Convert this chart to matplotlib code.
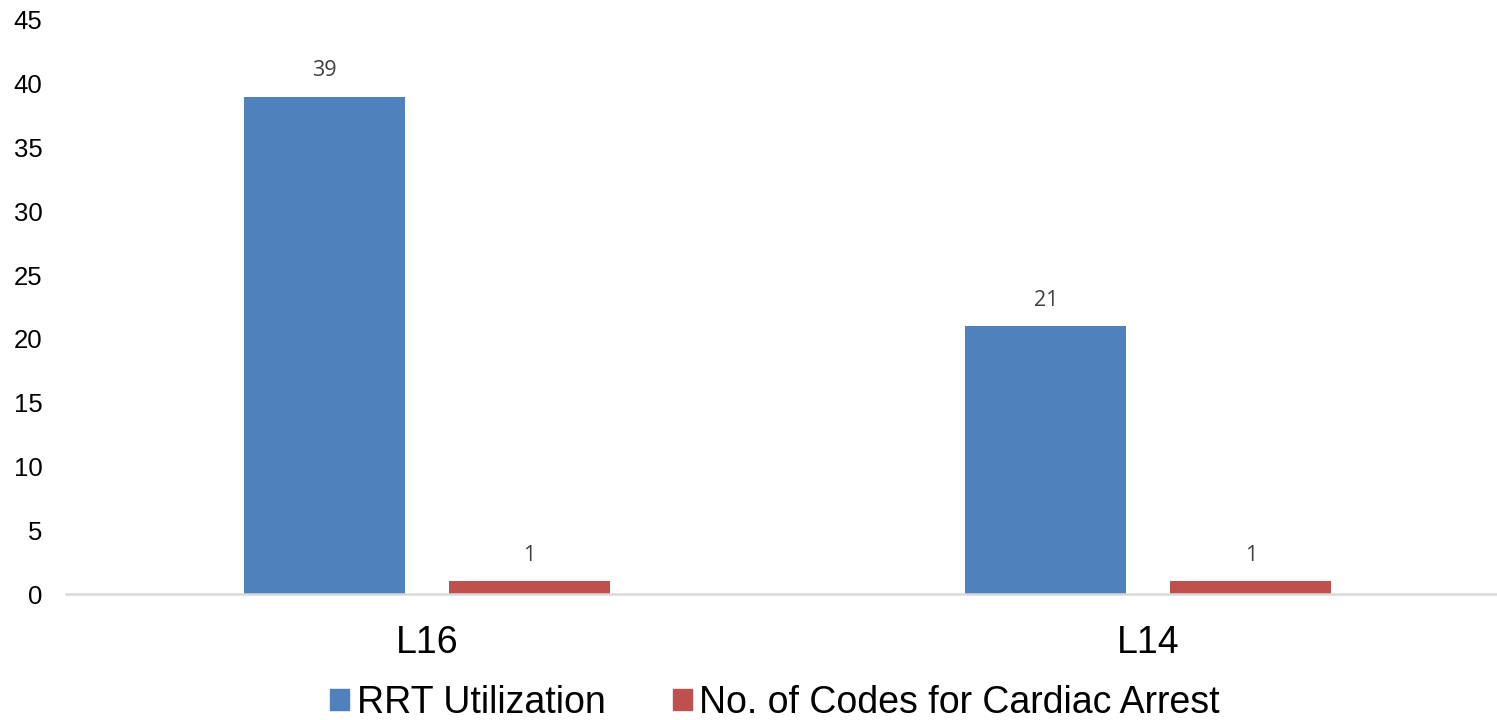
import numpy as np
import matplotlib.pyplot as plt
from matplotlib.patches import Patch

categories = ["L16", "L14"]
rrt_utilization = [39, 21]
cardiac_codes = [1, 1]
series_names = ["RRT Utilization", "No. of Codes for Cardiac Arrest"]
colors = ["#4F81BD", "#C0504D"]

plt.rcParams['font.family'] = ['Liberation Sans', 'DejaVu Sans']

fig = plt.figure(figsize=(14.97, 7.2), dpi=100)
# axes extends a bit past the right edge, like the cropped original
ax = fig.add_axes([66 / 1497, 126 / 720, 1443 / 1497, 574 / 720])

x = np.arange(len(categories))
width = 0.223
offset = 0.142

b1 = ax.bar(x - offset, rrt_utilization, width, color=colors[0])
b2 = ax.bar(x + offset, cardiac_codes, width, color=colors[1])

for bars, vals in [(b1, rrt_utilization), (b2, cardiac_codes)]:
    for bar, v in zip(bars, vals):
        ax.annotate(str(v), (bar.get_x() + bar.get_width() / 2, v),
                    xytext=(0, 11), textcoords='offset points',
                    ha='center', va='bottom', fontsize=15.5,
                    color='#404040', family=['Open Sans', 'DejaVu Sans'])

ax.set_xlim(-0.5, 1.5)
ax.set_ylim(0, 45)
ax.set_yticks(range(0, 50, 5))
ax.set_xticks(x)
ax.set_xticklabels(categories, fontsize=27)
ax.tick_params(axis='y', labelsize=18.5, length=0, pad=17)
ax.tick_params(axis='x', length=0, pad=22)

for s in ['top', 'right', 'left']:
    ax.spines[s].set_visible(False)
ax.spines['bottom'].set_color('#D9D9D9')
ax.spines['bottom'].set_linewidth(1.8)

handles = [Patch(color=c) for c in colors]
fig.legend(handles, series_names, loc='center', bbox_to_anchor=(775 / 1497, 1 - 703 / 720),
           ncol=2, frameon=False, fontsize=27, handlelength=0.5, handleheight=0.5,
           handletextpad=0.2, columnspacing=1.8, borderpad=0)

fig.savefig('out.png', dpi=100)
